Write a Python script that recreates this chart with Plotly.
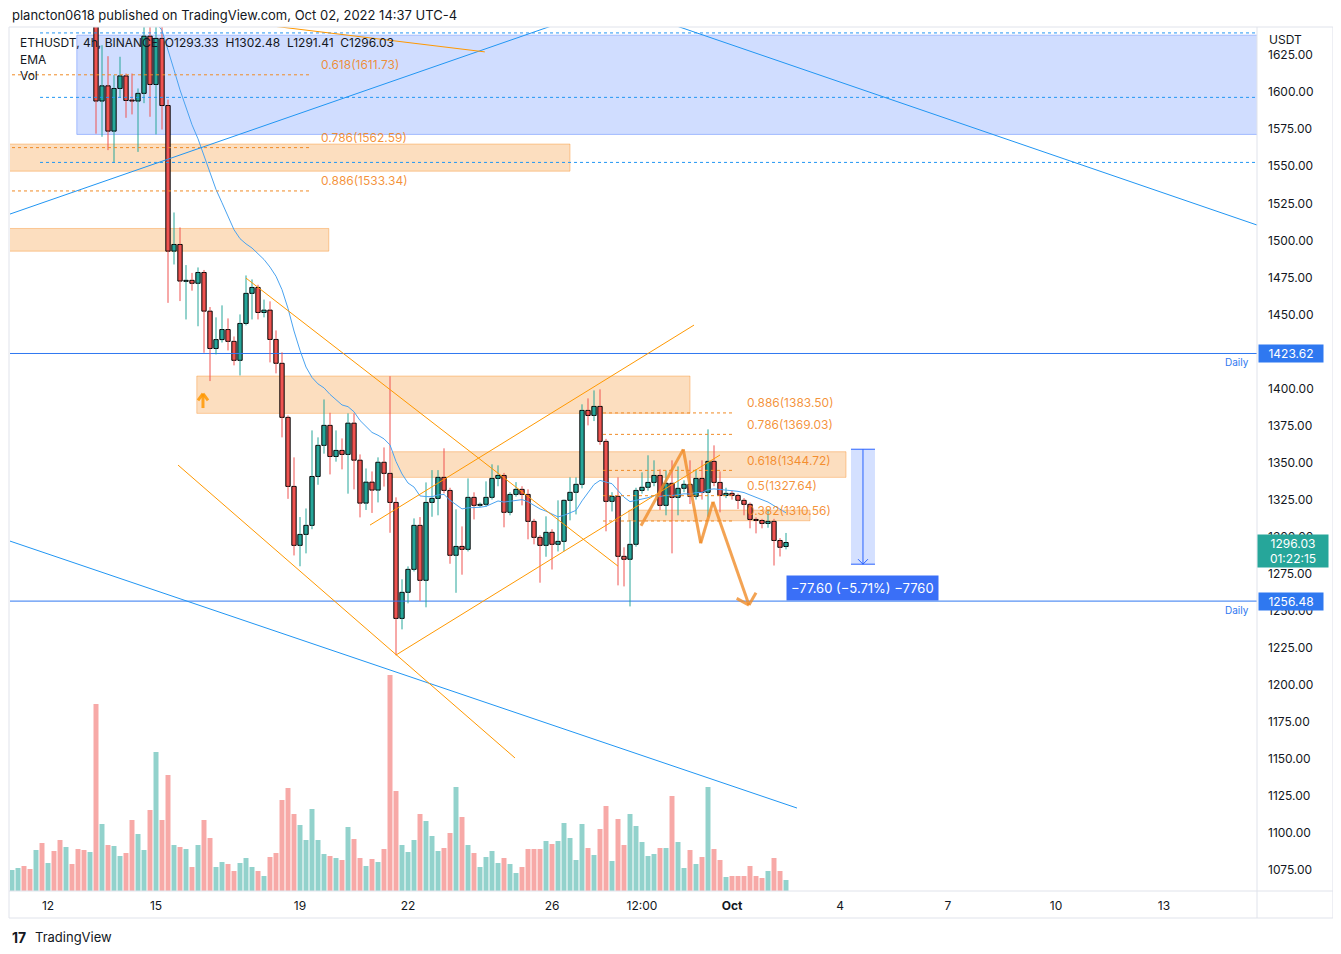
import pandas as pd
import plotly.graph_objects as go

# ---------------- data (ETHUSDT 4h, Binance) ----------------
START = "2022-09-11 00:00"
open_ = [1716,1728,1745,1738,1725,1752,1740,1760,1745,1718,
         1728,1712,1700,1695,1715,1594,1604.3,1573.7,1602.5,1611.0,
         1594.6,1594.0,1599.2,1637.8,1605.2,1636.3,1591.0,1492.7,1497.2,1472.3,
         1473.0,1471.0,1478.3,1452.2,1427.0,1433.0,1439.8,1431.8,1419.0,1443.9,
         1464.2,1468.2,1451.3,1452.9,1433.1,1417.0,1380.5,1333.9,1294.1,1301.5,
         1307.6,1340.6,1361.6,1375.1,1354.1,1358.2,1355.5,1376.6,1351.6,1322.6,
         1336.8,1331.4,1350.2,1342.7,1323.1,1244.8,1262.4,1277.9,1307.6,1270.5,
         1323.1,1325.8,1340.0,1331.2,1287.4,1293.4,1291.4,1326.5,1321.1,1321.8,
         1326.5,1339.3,1341.3,1316.4,1328.5,1331.9,1328.5,1310.3,1299.5,1294.1,
         1302.9,1294.8,1296.8,1324.5,1329.9,1335.3,1385.2,1381.8,1387.9,1364.3,
         1323.8,1327.2,1286.7,1284.7,1294.8,1331.2,1333.3,1336.6,1341.3,1321.1,
         1336.0,1326.5,1332.6,1335.3,1327.2,1339.3,1329.9,1350.8,1336.6,1327.8,
         1329.2,1327.8,1324.5,1321.8,1311.6,1310.9,1308.9,1310.3,1297.4,1293.33]
high = [1735,1750,1752,1742,1760,1758,1768,1764,1750,1735,
        1732,1718,1708,1722,1722,1631.7,1624.3,1611.5,1623.9,1612.6,
        1612.6,1602.5,1648,1650,1652,1645,1595,1518.8,1508.7,1483.3,
        1478.0,1481.7,1480.0,1455.0,1448.0,1456.1,1447.3,1435.1,1450.0,1476.3,
        1473.6,1470.0,1460.0,1458.8,1439.2,1424.4,1381.8,1353.5,1313.2,1319.0,
        1371.7,1367.0,1392.6,1383.6,1371.7,1366.3,1383.2,1383.2,1355.5,1346.0,
        1344.0,1353.5,1360.2,1408.3,1326.5,1271.2,1279.9,1312.3,1313.2,1336.6,
        1344.9,1344.9,1359.6,1333.0,1318.4,1306.9,1339.3,1329.9,1323.0,1337.3,
        1348.8,1348.1,1343.0,1330.0,1336.8,1334.0,1331.9,1312.0,1301.0,1313.7,
        1305.0,1324.5,1325.0,1340.0,1340.0,1389.3,1393.3,1398.7,1399.4,1366.0,
        1330.0,1340.0,1292.8,1311.0,1333.0,1343.4,1354.9,1351.5,1345.4,1344.7,
        1351.5,1347.4,1338.0,1351.5,1345.4,1351.5,1372.4,1361.6,1344.0,1333.0,
        1331.0,1329.0,1326.0,1323.0,1313.0,1312.0,1318.4,1312.0,1299.0,1302.48]
low = [1708,1722,1732,1718,1720,1735,1736,1740,1710,1712,
       1705,1695,1688,1690,1572,1569.9,1560.9,1552.3,1596.2,1582.7,
       1585.0,1559.7,1592.6,1583.4,1571.5,1574.8,1457.8,1483.7,1459.0,1446.6,
       1466.0,1442.0,1424.1,1405.0,1423.0,1431.0,1425.7,1415.6,1408.8,1442.6,
       1446.6,1446.6,1448.0,1417.6,1410.2,1367.0,1325.5,1287.3,1280.0,1288.7,
       1305.0,1335.0,1356.0,1342.0,1350.6,1345.4,1329.0,1331.9,1313.0,1318.0,
       1316.0,1323.1,1333.8,1302.6,1219.9,1237.4,1255.0,1276.5,1256.7,1252.3,
       1313.4,1314.4,1329.2,1281.7,1262.1,1274.3,1290.0,1311.6,1320.0,1320.0,
       1325.0,1334.0,1306.3,1314.4,1327.0,1321.1,1298.2,1294.8,1268.9,1286.4,
       1277.8,1290.0,1290.2,1311.0,1315.0,1332.6,1375.1,1378.0,1362.0,1303.6,
       1317.0,1267.1,1266.4,1252.9,1293.2,1329.0,1331.0,1334.0,1318.0,1314.4,
       1288.7,1314.4,1330.0,1322.0,1325.0,1325.0,1313.4,1334.0,1316.4,1326.0,
       1325.0,1318.6,1314.4,1305.6,1302.2,1305.6,1306.0,1280.5,1286.6,1291.41]
close = [1728,1745,1738,1725,1752,1740,1760,1745,1718,1728,
         1712,1700,1695,1715,1594,1604.3,1573.7,1602.5,1611.0,1594.4,
         1594.0,1599.2,1637.8,1605.2,1636.3,1591.0,1492.7,1497.2,1472.5,1473.0,
         1471.0,1478.3,1452.2,1427.0,1433.0,1439.8,1431.8,1419.0,1443.9,1464.2,
         1468.2,1451.3,1452.9,1433.1,1417.0,1380.5,1333.9,1294.1,1301.5,1307.6,
         1340.6,1361.6,1375.1,1354.1,1358.2,1355.5,1376.6,1351.6,1322.6,1336.8,
         1331.4,1350.2,1342.7,1323.1,1244.8,1262.4,1277.9,1307.6,1270.5,1323.1,
         1325.8,1340.0,1331.2,1287.4,1293.4,1291.4,1326.5,1321.1,1321.8,1326.5,
         1339.3,1341.3,1316.4,1328.5,1331.9,1328.5,1310.3,1299.5,1294.1,1302.9,
         1294.8,1296.8,1324.5,1329.9,1335.3,1385.2,1381.8,1387.9,1364.3,1323.8,
         1327.2,1286.7,1284.7,1294.8,1331.2,1333.3,1336.6,1341.3,1321.1,1336.0,
         1326.5,1332.6,1335.3,1327.2,1339.3,1329.9,1350.8,1336.6,1327.8,1329.2,
         1327.8,1324.5,1321.8,1311.6,1310.9,1308.9,1310.3,1297.4,1292.8,1296.03]
volume_k = [84,92,100,88,164,192,112,160,204,176,
            108,168,164,156,748,268,184,180,140,152,
            284,228,164,324,556,284,464,184,176,168,
            96,184,284,212,96,116,108,80,112,132,
            96,80,60,136,152,364,412,308,264,204,
            328,204,148,140,132,124,256,208,132,100,
            128,116,168,864,400,184,156,204,308,280,
            220,160,172,232,416,296,184,152,96,136,
            160,112,132,108,72,96,168,168,168,200,
            188,200,272,212,124,268,172,144,248,340,
            120,288,184,308,260,196,140,148,172,172,
            380,196,92,164,108,136,416,168,124,56,
            60,60,60,100,60,52,80,132,80,44]

x_tick_bars = [6, 24, 48, 66, 90, 105, 120, 138, 156, 174, 192]
x_tick_text = ["12", "15", "19", "22", "26", "12:00", "<b>Oct</b>", "4", "7", "10", "13"]
price_ticks = list(range(1075, 1626, 25))

# drawing anchors (bar index, price)
zones_orange = [(-1, 93, 1565.0, 1546.7), (-1, 52.8, 1508.0, 1492.7),
                (30.8, 113, 1408.4, 1383.2), (63.3, 139, 1357.3, 1340.0),
                (102.8, 133, 1317.9, 1310.7)]
zone_blue = (10.8, 215, 1638.5, 1571.5)
fib_top = [("0.618", 1611.73), ("0.786", 1562.59), ("0.886", 1533.34)]
fib_top_blue = [1640.0, 1596.5, 1552.6]
fib_bottom = [("0.886", 1383.50), ("0.786", 1369.03), ("0.618", 1344.72),
              ("0.5", 1327.64), ("0.382", 1310.56)]
daily_levels = [1423.62, 1256.48]
blue_trends = [(-1, 1516.8, 100, 1658.9), (105, 1652.7, 215, 1499.9), (-1, 1297.9, 130.83, 1116.8)]
orange_trends = [(41.3, 1645.7, 78.8, 1627.2), (39, 1474.5, 101, 1280.1),
                 (27.67, 1348.3, 83.83, 1150.6), (59.67, 1307.8, 113.67, 1442.8),
                 (64, 1220.1, 118, 1355.1)]
zigzag = [(104.83, 1307.3), (111.88, 1358.9), (114.78, 1295.5), (116.83, 1323.5), (122.83, 1253.8)]
zigzag_head = [(120.78, 1258.3), (122.83, 1253.8), (124.0, 1262.1)]
measure = (139.83, 143.83, 1359.0, 1281.4)

# ---------------- helpers ----------------
base_ts = pd.Timestamp(START)
def T(i):
    return (base_ts + pd.Timedelta(hours=4 * i)).strftime("%Y-%m-%d %H:%M:%S")

n = len(close)
times = [T(i) for i in range(n)]
ema = pd.Series(close).ewm(span=20, adjust=False).mean().tolist()

GREEN = "#26a69a"; RED = "#ef5350"
VGREEN = "rgba(38,166,154,0.5)"; VRED = "rgba(239,83,80,0.5)"
BLUE = "#2196f3"; HBLUE = "#2962ff"; ORANGE = "#ff9800"; DAILY = "#2f78f0"
TXT = "#131722"
FONT = "Inter, Roboto, 'Noto Sans', sans-serif"
BAR = 4 * 3600 * 1000

up = [i for i in range(n) if close[i] >= open_[i]]
dn = [i for i in range(n) if close[i] < open_[i]]

fig = go.Figure()
# volume (base axis, drawn first)
fig.add_bar(x=times, y=volume_k, width=0.83 * BAR,
            marker=dict(color=[VGREEN if close[i] >= open_[i] else VRED for i in range(n)], line=dict(width=0)),
            yaxis="y", hoverinfo="skip")

# daily horizontal levels as line traces (drawn beneath the candles)
for p in daily_levels:
    fig.add_scatter(x=[T(-1), T(215)], y=[p, p], mode="lines", line=dict(color=DAILY, width=1),
                    yaxis="y2", hoverinfo="skip")

# candle bodies
for idx, col in ((up, GREEN), (dn, RED)):
    fig.add_bar(x=[times[i] for i in idx],
                base=[min(open_[i], close[i]) for i in idx],
                y=[max(abs(close[i] - open_[i]), 0.7) for i in idx],
                width=0.72 * BAR, yaxis="y2",
                marker=dict(color=col, line=dict(color="#000000", width=1)), hoverinfo="skip")

# wicks
for idx, col in ((up, GREEN), (dn, RED)):
    xs, ys = [], []
    for i in idx:
        top = max(open_[i], close[i]); bot = min(open_[i], close[i])
        xs += [times[i], times[i], None, times[i], times[i], None]
        ys += [high[i], top, None, bot, low[i], None]
    fig.add_scatter(x=xs, y=ys, mode="lines", line=dict(color=col, width=1), yaxis="y2", hoverinfo="skip")

# EMA
fig.add_scatter(x=times, y=ema, mode="lines", line=dict(color="#4aa3f0", width=1), yaxis="y2", hoverinfo="skip")

shapes = []
annotations = []
def line(i0, p0, i1, p1, color, width=1, dash="solid", layer="above"):
    shapes.append(dict(type="line", xref="x", yref="y2", x0=T(i0), y0=p0, x1=T(i1), y1=p1,
                       line=dict(color=color, width=width, dash=dash), layer=layer))
def rect(i0, i1, p0, p1, fill, border):
    shapes.append(dict(type="rect", xref="x", yref="y2", x0=T(i0), x1=T(i1), y0=p0, y1=p1,
                       fillcolor=fill, line=dict(color=border, width=1), layer="below"))

# zones
bi0, bi1, bp0, bp1 = zone_blue
rect(bi0, bi1, bp0, bp1, "rgba(41,98,255,0.22)", "rgba(41,98,255,0.35)")
for i0, i1, p0, p1 in zones_orange:
    rect(i0, i1, p0, p1, "rgba(245,124,0,0.25)", "rgba(245,124,0,0.35)")

# fib levels
FIBC = "rgba(242,128,20,0.85)"
for lab, p in fib_top:
    line(-1, p, 49.83, p, "#f08a24", 1, "dot")
    annotations.append(dict(x=T(51.17), y=p, xref="x", yref="y2", text=f"{lab}({p:.2f})",
                            showarrow=False, xanchor="left", yanchor="middle", yshift=10,
                            font=dict(size=12, color=FIBC, family=FONT)))
for p in fib_top_blue:
    line(4.67, p, 215, p, BLUE, 1, "dot")
for lab, p in fib_bottom:
    line(98.5, p, 120.5, p, "#f08a24", 1, "dot")
    annotations.append(dict(x=T(122.17), y=p, xref="x", yref="y2", text=f"{lab}({p:.2f})",
                            showarrow=False, xanchor="left", yanchor="middle", yshift=10,
                            font=dict(size=12, color=FIBC, family=FONT)))

# daily level labels
for p in daily_levels:
    annotations.append(dict(x=0.9952, y=p, xref="paper", yref="y2", text="Daily", showarrow=False,
                            xanchor="right", yanchor="top", yshift=-1,
                            font=dict(size=10, color=DAILY, family=FONT)))
    annotations.append(dict(x=1.0008, y=p, xref="paper", yref="y2", text=f"{p:.2f}", showarrow=False,
                            xanchor="left", yanchor="middle", bgcolor=DAILY, borderpad=1,
                            width=62, height=15, align="center",
                            font=dict(size=12, color="white", family=FONT)))

for a in blue_trends:
    line(*a, BLUE, 1)
for a in orange_trends:
    line(*a, ORANGE, 1)

ZZ = "rgba(240,140,40,0.8)"
for (i0, p0), (i1, p1) in zip(zigzag[:-1], zigzag[1:]):
    line(i0, p0, i1, p1, ZZ, 3)
for (i0, p0), (i1, p1) in zip(zigzag_head[:-1], zigzag_head[1:]):
    line(i0, p0, i1, p1, ZZ, 3)

# small up arrow
line(31.83, 1386.8, 31.83, 1396.0, "rgba(255,152,0,0.85)", 3)
line(31.0, 1392.0, 31.83, 1396.5, "rgba(255,152,0,0.85)", 3)
line(32.67, 1392.0, 31.83, 1396.5, "rgba(255,152,0,0.85)", 3)

# measurement tool
mi0, mi1, mp0, mp1 = measure
mc = (mi0 + mi1) / 2
shapes.append(dict(type="rect", xref="x", yref="y2", x0=T(mi0), x1=T(mi1), y0=mp1, y1=mp0,
                   fillcolor="rgba(41,98,255,0.2)", line=dict(width=0), layer="above"))
line(mi0, mp0, mi1, mp0, HBLUE, 1)
line(mi0, mp1, mi1, mp1, HBLUE, 1)
line(mc, mp0, mc, mp1, HBLUE, 1)
line(mc - 0.83, mp1 + 3.4, mc, mp1, HBLUE, 1)
line(mc + 0.83, mp1 + 3.4, mc, mp1, HBLUE, 1)
annotations.append(dict(x=T(mc), y=1265.6, xref="x", yref="y2",
                        text="\u221277.60 (\u22125.71%) \u22127760", showarrow=False,
                        bgcolor="#3a6ff7", borderpad=4, font=dict(size=13, color="white", family=FONT)))

# price label for last bar (first text line sits on the price level)
annotations.append(dict(x=1.0, y=close[-1], xref="paper", yref="y2",
                        text=f"{close[-1]:.2f}<br>01:22:15", showarrow=False, xanchor="left",
                        yanchor="top", yshift=9, bgcolor=GREEN, borderpad=1, align="center",
                        width=68, height=30,
                        font=dict(size=12, color="white", family=FONT)))

# frame
FR = "#e0e3eb"
def pline(x0, y0, x1, y1):
    shapes.append(dict(type="line", xref="paper", yref="paper", x0=x0, y0=y0, x1=x1, y1=y1,
                       line=dict(color=FR, width=1), layer="above"))
L0, R0, TOP, BOT = -0.0008, 1.0609, 1.0, -0.03125
pline(L0, TOP, R0, TOP); pline(L0, BOT, R0, BOT); pline(L0, BOT, L0, TOP); pline(R0, BOT, R0, TOP)
pline(1.0, BOT, 1.0, TOP); pline(L0, 0, R0, 0)

# texts
def ptext(px, py, text, size=12, color=TXT, anchor="left"):
    annotations.append(dict(x=(px - 10) / 1247, y=(891 - py) / 864, xref="paper", yref="paper",
                            text=text, showarrow=False, xanchor=anchor, yanchor="middle",
                            font=dict(size=size, color=color, family=FONT)))
ptext(10, 15, "plancton0618 published on TradingView.com, Oct 02, 2022 14:37 UTC-4", 13)
ptext(18, 42, "ETHUSDT, 4h, BINANCE\u00a0\u00a0O1293.33\u00a0\u00a0H1302.48\u00a0\u00a0L1291.41\u00a0\u00a0C1296.03", 12)
ptext(18, 59, "EMA", 12)
ptext(18, 76, "Vol", 12)
ptext(1267, 40, "USDT", 12)
ptext(10, 937, "<b>17</b>", 14)
ptext(33, 937, "TradingView", 13)

# the page adds an 8px body margin, so the figure is drawn 8px in from the window corner
fig.update_layout(
    width=1333, height=946, margin=dict(l=2, r=84, t=19, b=63),
    paper_bgcolor="white", plot_bgcolor="white", showlegend=False, barmode="overlay",
    font=dict(family=FONT, color=TXT, size=12),
    xaxis=dict(type="date", range=[T(-0.333), T(207.5)], tickvals=[T(i) for i in x_tick_bars],
               ticktext=x_tick_text, showgrid=False, zeroline=False, showline=False, ticks="",
               ticklabelstandoff=6, tickfont=dict(size=12, color=TXT, family=FONT)),
    yaxis=dict(range=[0, 3456], visible=False, showgrid=False),
    yaxis2=dict(overlaying="y", side="right", range=[1060.8, 1644.0], tickvals=price_ticks,
                ticktext=[f"{v:.2f}" for v in price_ticks], showgrid=False, zeroline=False,
                showline=False, ticks="", ticklabelstandoff=10,
                tickfont=dict(size=12, color=TXT, family=FONT)),
    shapes=shapes, annotations=annotations,
)
fig.write_html("out.html")
